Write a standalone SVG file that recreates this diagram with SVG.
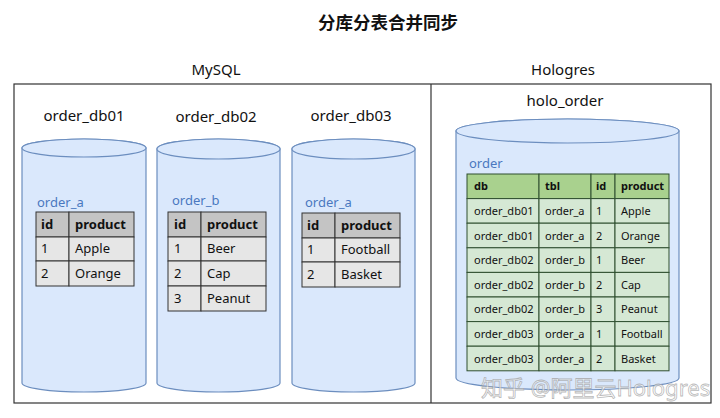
<svg xmlns="http://www.w3.org/2000/svg" width="720" height="418" viewBox="0 0 720 418">
<style>
text{font-family:"Noto Sans","Liberation Sans","Noto Sans CJK SC",sans-serif;fill:#111}
.title{font-size:17.5px;font-weight:bold;text-anchor:middle}
.sec{font-size:15px;text-anchor:middle}
.cyl{fill:#dae8fc;stroke:#6c8ebf;stroke-width:1.2}
.tlabel{font-size:13px;fill:#4a78c0}
.hdr{fill:#c4c4c4;stroke:#333;stroke-width:1}
.row{fill:#e6e6e6;stroke:#333;stroke-width:1}
.t{font-size:13px}
.tb{font-size:13px;font-weight:bold}
.ghdr{fill:#a9d18e;stroke:#2f4f2f;stroke-width:1}
.grow{fill:#d5e8d4;stroke:#2f4f2f;stroke-width:1}
.g{font-size:11px}
.gb{font-size:11px;font-weight:bold}
.wm{font-size:22px;fill:#fff;fill-opacity:0.6;stroke:#999;stroke-width:0.8;stroke-opacity:0.7}
</style>
<rect width="720" height="418" fill="#fff"/>
<text class="title" x="388" y="29">分库分表合并同步</text>
<text class="sec" x="216" y="75">MySQL</text>
<text class="sec" x="563" y="75">Hologres</text>
<g id="frame">
<rect x="14" y="84" width="697" height="319" fill="none" stroke="#333" stroke-width="1.2"/>
<line x1="431" y1="84" x2="431" y2="403" stroke="#333" stroke-width="1.2"/>
</g>

<g id="order_db01">
<text class="sec" x="84" y="121">order_db01</text>
<path class="cyl" d="M22,148 L22,383 A62,9 0 0 0 146,383 L146,148 A62,9 0 0 0 22,148 Z"/>
<ellipse class="cyl" cx="84" cy="148" rx="62" ry="9"/>
<text class="tlabel" x="37" y="207">order_a</text>
<rect class="hdr" x="36" y="212" width="33" height="25"/><rect class="hdr" x="69" y="212" width="65" height="25"/>
<rect class="row" x="36" y="237" width="33" height="24"/><rect class="row" x="69" y="237" width="65" height="24"/>
<rect class="row" x="36" y="261" width="33" height="25"/><rect class="row" x="69" y="261" width="65" height="25"/>
<text class="tb" x="41" y="229">id</text><text class="tb" x="75" y="229">product</text>
<text class="t" x="41" y="253">1</text><text class="t" x="75" y="253">Apple</text>
<text class="t" x="41" y="278">2</text><text class="t" x="75" y="278">Orange</text>
</g>

<g id="order_db02">
<text class="sec" x="216" y="122">order_db02</text>
<path class="cyl" d="M157,149 L157,383 A61.5,9 0 0 0 280,383 L280,149 A61.5,10 0 0 0 157,149 Z"/>
<ellipse class="cyl" cx="218.5" cy="149" rx="61.5" ry="10"/>
<text class="tlabel" x="172" y="205">order_b</text>
<rect class="hdr" x="168" y="212" width="33" height="25"/><rect class="hdr" x="201" y="212" width="65" height="25"/>
<rect class="row" x="168" y="237" width="33" height="24"/><rect class="row" x="201" y="237" width="65" height="24"/>
<rect class="row" x="168" y="261" width="33" height="25"/><rect class="row" x="201" y="261" width="65" height="25"/>
<rect class="row" x="168" y="286" width="33" height="25"/><rect class="row" x="201" y="286" width="65" height="25"/>
<text class="tb" x="174" y="229">id</text><text class="tb" x="207" y="229">product</text>
<text class="t" x="174" y="253">1</text><text class="t" x="207" y="253">Beer</text>
<text class="t" x="174" y="278">2</text><text class="t" x="207" y="278">Cap</text>
<text class="t" x="174" y="303">3</text><text class="t" x="207" y="303">Peanut</text>
</g>

<g id="order_db03">
<text class="sec" x="351" y="121">order_db03</text>
<path class="cyl" d="M292,149 L292,383 A61.5,9 0 0 0 415,383 L415,149 A61.5,10 0 0 0 292,149 Z"/>
<ellipse class="cyl" cx="353.5" cy="149" rx="61.5" ry="10"/>
<text class="tlabel" x="305" y="207">order_a</text>
<rect class="hdr" x="302" y="213" width="33" height="25"/><rect class="hdr" x="335" y="213" width="65" height="25"/>
<rect class="row" x="302" y="238" width="33" height="24"/><rect class="row" x="335" y="238" width="65" height="24"/>
<rect class="row" x="302" y="262" width="33" height="25"/><rect class="row" x="335" y="262" width="65" height="25"/>
<text class="tb" x="307" y="230">id</text><text class="tb" x="341" y="230">product</text>
<text class="t" x="307" y="254">1</text><text class="t" x="341" y="254">Football</text>
<text class="t" x="307" y="279">2</text><text class="t" x="341" y="279">Basket</text>
</g>

<g id="holo_order">
<text class="sec" x="565" y="106">holo_order</text>
<path class="cyl" d="M456,131 L456,378 A111.5,12 0 0 0 679,378 L679,131 A111.5,12 0 0 0 456,131 Z"/>
<ellipse class="cyl" cx="567.5" cy="131" rx="111.5" ry="12"/>
<text class="tlabel" x="469" y="168">order</text>
<g>
<rect class="ghdr" x="467" y="174" width="72" height="24.6"/><rect class="ghdr" x="539" y="174" width="52" height="24.6"/><rect class="ghdr" x="591" y="174" width="24" height="24.6"/><rect class="ghdr" x="615" y="174" width="54" height="24.6"/>
<text class="gb" x="474" y="190">db</text><text class="gb" x="545" y="190">tbl</text><text class="gb" x="596" y="190">id</text><text class="gb" x="621" y="190">product</text>
</g>
<g>
<rect class="grow" x="467" y="198.6" width="72" height="24.6"/><rect class="grow" x="539" y="198.6" width="52" height="24.6"/><rect class="grow" x="591" y="198.6" width="24" height="24.6"/><rect class="grow" x="615" y="198.6" width="54" height="24.6"/>
<text class="g" x="474" y="215">order_db01</text><text class="g" x="545" y="215">order_a</text><text class="g" x="596" y="215">1</text><text class="g" x="621" y="215">Apple</text>
</g>
<g>
<rect class="grow" x="467" y="223.2" width="72" height="24.6"/><rect class="grow" x="539" y="223.2" width="52" height="24.6"/><rect class="grow" x="591" y="223.2" width="24" height="24.6"/><rect class="grow" x="615" y="223.2" width="54" height="24.6"/>
<text class="g" x="474" y="239.5">order_db01</text><text class="g" x="545" y="239.5">order_a</text><text class="g" x="596" y="239.5">2</text><text class="g" x="621" y="239.5">Orange</text>
</g>
<g>
<rect class="grow" x="467" y="247.8" width="72" height="24.6"/><rect class="grow" x="539" y="247.8" width="52" height="24.6"/><rect class="grow" x="591" y="247.8" width="24" height="24.6"/><rect class="grow" x="615" y="247.8" width="54" height="24.6"/>
<text class="g" x="474" y="264">order_db02</text><text class="g" x="545" y="264">order_b</text><text class="g" x="596" y="264">1</text><text class="g" x="621" y="264">Beer</text>
</g>
<g>
<rect class="grow" x="467" y="272.4" width="72" height="24.6"/><rect class="grow" x="539" y="272.4" width="52" height="24.6"/><rect class="grow" x="591" y="272.4" width="24" height="24.6"/><rect class="grow" x="615" y="272.4" width="54" height="24.6"/>
<text class="g" x="474" y="288.5">order_db02</text><text class="g" x="545" y="288.5">order_b</text><text class="g" x="596" y="288.5">2</text><text class="g" x="621" y="288.5">Cap</text>
</g>
<g>
<rect class="grow" x="467" y="297" width="72" height="24.6"/><rect class="grow" x="539" y="297" width="52" height="24.6"/><rect class="grow" x="591" y="297" width="24" height="24.6"/><rect class="grow" x="615" y="297" width="54" height="24.6"/>
<text class="g" x="474" y="313">order_db02</text><text class="g" x="545" y="313">order_b</text><text class="g" x="596" y="313">3</text><text class="g" x="621" y="313">Peanut</text>
</g>
<g>
<rect class="grow" x="467" y="321.6" width="72" height="24.6"/><rect class="grow" x="539" y="321.6" width="52" height="24.6"/><rect class="grow" x="591" y="321.6" width="24" height="24.6"/><rect class="grow" x="615" y="321.6" width="54" height="24.6"/>
<text class="g" x="474" y="338">order_db03</text><text class="g" x="545" y="338">order_a</text><text class="g" x="596" y="338">1</text><text class="g" x="621" y="338">Football</text>
</g>
<g>
<rect class="grow" x="467" y="346.2" width="72" height="24.6"/><rect class="grow" x="539" y="346.2" width="52" height="24.6"/><rect class="grow" x="591" y="346.2" width="24" height="24.6"/><rect class="grow" x="615" y="346.2" width="54" height="24.6"/>
<text class="g" x="474" y="362.5">order_db03</text><text class="g" x="545" y="362.5">order_a</text><text class="g" x="596" y="362.5">2</text><text class="g" x="621" y="362.5">Basket</text>
</g>
</g>
<g id="connectors"/>
<text class="wm" x="481" y="396">知乎 @阿里云Hologres</text>
</svg>
